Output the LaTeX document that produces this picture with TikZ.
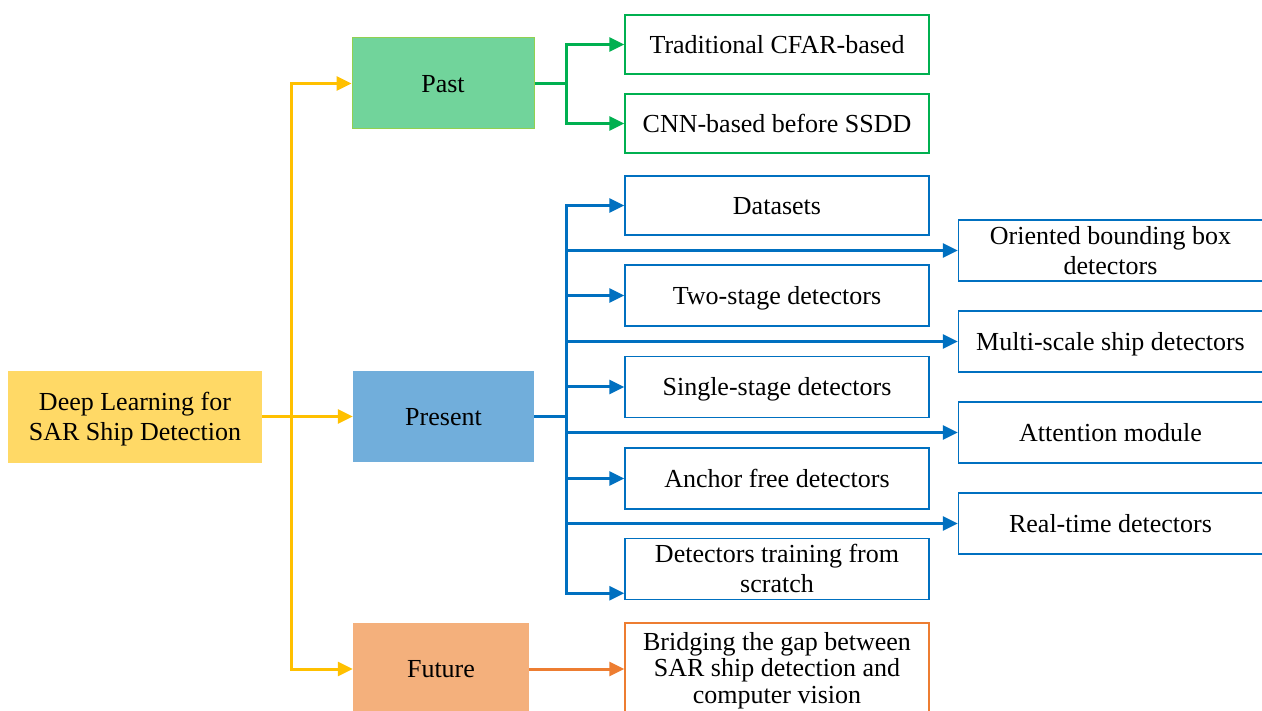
\documentclass[tikz,border=0pt]{standalone}
\usepackage{fontspec}
\setmainfont{Liberation Serif}
\usetikzlibrary{arrows.meta}
\definecolor{cyel}{HTML}{FFC000}
\definecolor{cgrn}{HTML}{00B050}
\definecolor{cblu}{HTML}{0070C0}
\definecolor{corg}{HTML}{ED7D31}
\definecolor{froot}{HTML}{FFD966}
\definecolor{fpast}{HTML}{71D49B}
\definecolor{fpres}{HTML}{71AEDB}
\definecolor{ffut}{HTML}{F4B07C}
\definecolor{bpast}{HTML}{92D050}
\newcommand{\ms}{\rule[-0.216em]{0pt}{1.107em}}
\newcommand{\ts}{\rule[-0.1em]{0pt}{0.9em}}
\begin{document}
\begin{tikzpicture}[x=1pt,y=-1pt,
  txt/.style={font=\fontsize{26}{30}\selectfont, align=center, inner sep=0pt, text=black},
  filled/.style={txt, draw=none},
  gbox/.style={txt, draw=cgrn, line width=1.5pt, minimum width=304pt, minimum height=59pt},
  bbox/.style={txt, draw=cblu, line width=1.5pt, minimum width=304pt, minimum height=61pt},
  obox/.style={txt, draw=corg, line width=1.5pt, minimum width=304pt, minimum height=92pt, font=\fontsize{26}{26.5}\selectfont},
  conn/.style={line width=3pt},
  tip/.style={-{Triangle[length=15pt,width=14pt]}},
  yl/.style={conn, draw=cyel},
  gl/.style={conn, draw=cgrn},
  bl/.style={conn, draw=cblu},
  ol/.style={conn, draw=corg}]
\useasboundingbox (0,0) rectangle (1262,711);
\clip (0,0) rectangle (1262,711);

% main boxes
\node[filled, fill=froot, minimum width=254pt, minimum height=91pt] (root) at (135,417) {\ms Deep Learning for\\\ms SAR Ship Detection};
\node[filled, fill=fpast, draw=bpast, line width=1pt, minimum width=182pt, minimum height=91pt] (past) at (443,83.5) {\ms Past};
\node[filled, fill=fpres, minimum width=181pt, minimum height=91pt] (present) at (443.5,416.5) {\ms Present};
\node[filled, fill=ffut, minimum width=176pt, minimum height=92pt] (future) at (441,669) {\ms Future};

% green leaves
\node[gbox] (trad) at (777,44.5) {\ms Traditional CFAR-based};
\node[gbox] (cnn) at (777,123.5) {\ms CNN-based before SSDD};

% blue leaves, left column
\node[bbox, minimum height=59pt] (datasets) at (777,205.5) {\ms Datasets};
\node[bbox] (twostage) at (777,295.5) {\ms Two-stage detectors};
\node[bbox] (single) at (777,387) {\ms Single-stage detectors};
\node[bbox] (anchor) at (777,478.5) {\ms Anchor free detectors};
\node[bbox] (scratch) at (777,569) {\ms Detectors training from\\\ms scratch};

% blue leaves, right column
\node[bbox] (oriented) at (1110.5,250.5) {\ms Oriented bounding box\\\ms detectors};
\node[bbox] (multi) at (1110.5,341.5) {\ms Multi-scale ship detectors};
\node[bbox] (attention) at (1110.5,432.5) {\ms Attention module};
\node[bbox] (realtime) at (1110.5,523.5) {\ms Real-time detectors};

% orange leaf
\node[obox] (bridge) at (777,669) {\ts Bridging the gap between\\\ts SAR ship detection and\\\ts computer vision};

% yellow connectors
\coordinate (ysplit) at (291,416.5);
\draw[yl] (root.east |- ysplit) -- (ysplit);
\draw[yl, tip] (ysplit) -- (present.west);
\draw[yl, tip] (ysplit) |- (past.west);
\draw[yl, tip] (ysplit) |- (future.west);

% green connectors
\coordinate (gsplit) at (566,83.5);
\draw[gl] (past.east) -- (gsplit);
\draw[gl, tip] (gsplit) |- (trad.west);
\draw[gl, tip] (gsplit) |- (cnn.west);

% blue connectors
\coordinate (bsplit) at (566,416.5);
\draw[bl] (present.east) -- (bsplit);
\draw[bl, tip] (bsplit) |- (datasets.west);
\draw[bl, tip] (bsplit) |- (twostage.west);
\draw[bl, tip] (bsplit) |- (single.west);
\draw[bl, tip] (bsplit) |- (anchor.west);
\draw[bl, tip] (bsplit) |- ([yshift=7pt]scratch.south west);
\draw[bl, tip] (bsplit) |- (oriented.west);
\draw[bl, tip] (bsplit) |- (multi.west);
\draw[bl, tip] (bsplit) |- (attention.west);
\draw[bl, tip] (bsplit) |- (realtime.west);

% orange connector
\draw[ol, tip] (future.east) -- (bridge.west);
\end{tikzpicture}
\end{document}
